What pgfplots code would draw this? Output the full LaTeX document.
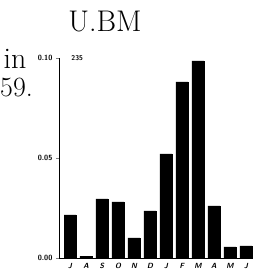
\documentclass[border=0pt]{standalone}
\usepackage{pgfplots}
\pgfplotsset{compat=1.18}
\begin{document}
\begin{tikzpicture}[x=1bp,y=1bp]
\useasboundingbox (0,0) rectangle (265,273);
\node[font=\fontsize{30}{36}\selectfont] at (105,251) {U.BM};
\node[font=\fontsize{30}{36}\selectfont, anchor=east] at (30,214) {in};
\node[font=\fontsize{28}{34}\selectfont, anchor=west, inner sep=0pt] at (0,185) {59.};
\begin{axis}[
  at={(70bp,15bp)}, anchor=origin,
  scale only axis, width=193bp, height=200bp,
  xmin=-0.69, xmax=11.375, ymin=0, ymax=0.10,
  axis x line=bottom, axis y line=left, axis line style={-, line width=0.8pt},
  ybar, bar width=0.75, bar shift=0pt,
  xtick={0,...,11}, xticklabels={J,A,S,O,N,D,J,F,M,A,M,J},
  xtick style={draw=none},
  ytick={0,0.05,0.10}, yticklabels={0.00,0.05,0.10},
  tick align=outside, major tick length=3bp,
  yticklabel style={font=\fontsize{7.5}{8}\selectfont\sffamily\bfseries},
  xticklabel style={font=\fontsize{7.5}{8}\selectfont\sffamily\bfseries\itshape, yshift=1pt},
  clip=false,
]
\addplot[fill=black, draw=black] coordinates {
 (0,0.0215) (1,0.0008) (2,0.0295) (3,0.028) (4,0.010) (5,0.0235)
 (6,0.052) (7,0.088) (8,0.0985) (9,0.026) (10,0.0055) (11,0.006)};
\node[font=\fontsize{7}{8}\selectfont\sffamily\bfseries] at (axis cs:0.45,0.10) {235};
\end{axis}
\end{tikzpicture}
\end{document}
